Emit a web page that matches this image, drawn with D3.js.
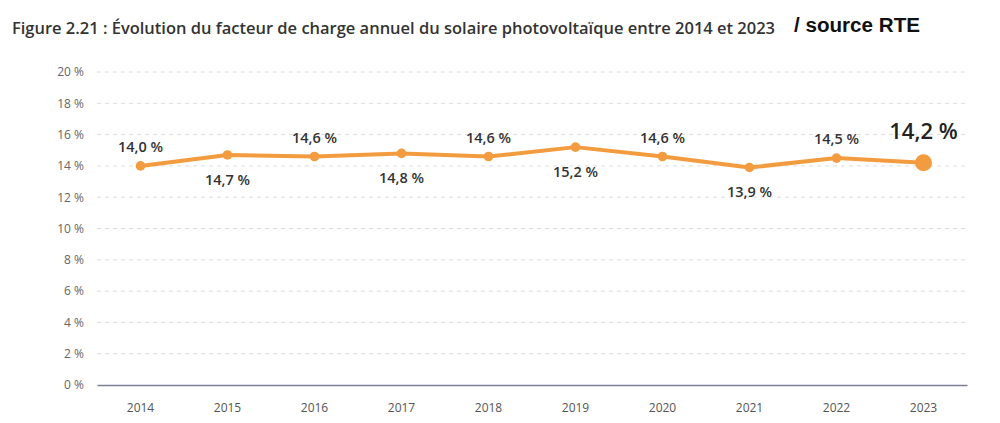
<!DOCTYPE html>
<html><head><meta charset="utf-8">
<script src="https://cdn.jsdelivr.net/npm/d3@7"></script>
<style>body{margin:0;background:#fff;}svg{display:block;}</style>
</head><body>
<svg id="c" width="1000" height="423"></svg>
<script>
const years = ["2014","2015","2016","2017","2018","2019","2020","2021","2022","2023"];
const values = [14.0, 14.7, 14.6, 14.8, 14.6, 15.2, 14.6, 13.9, 14.5, 14.2];
const labels = ["14,0 %","14,7 %","14,6 %","14,8 %","14,6 %","15,2 %","14,6 %","13,9 %","14,5 %","14,2 %"];
const labelPos = ["above","below","above","below","above","below","above","below","above","above"];
const yTicks = [0,2,4,6,8,10,12,14,16,18,20];
const titleText = "Figure 2.21 : Évolution du facteur de charge annuel du solaire photovoltaïque entre 2014 et 2023";
const sourceText = "/ source RTE";

const svg = d3.select("#c");
const m = {left:97, right:967, top:72, bottom:385};
const x = d3.scaleBand().domain(years).range([m.left, m.right]);
const y = d3.scaleLinear().domain([0,20]).range([m.bottom, m.top]);
const orange = "#f29b3f";

svg.append("text").attr("x",12).attr("y",34)
  .attr("font-family","'Open Sans', sans-serif").attr("font-weight",600).attr("font-size",15.5)
  .attr("textLength",763).attr("lengthAdjust","spacingAndGlyphs")
  .attr("fill","#333").text(titleText);
svg.append("text").attr("x",794).attr("y",32)
  .attr("font-family","'Liberation Sans', Arial, sans-serif").attr("font-weight",700).attr("font-size",20)
  .attr("textLength",126).attr("lengthAdjust","spacingAndGlyphs")
  .attr("fill","#111").text(sourceText);

// grid
const yAxis = d3.axisLeft(y).tickValues(yTicks).tickSize(0).tickPadding(13).tickFormat(d => d + " %");
const gy = svg.append("g").attr("transform",`translate(${m.left},0)`).call(yAxis);
gy.select(".domain").remove();
gy.selectAll("text").attr("font-family","'Open Sans', sans-serif").attr("font-size",12).attr("fill","#666");
svg.append("g").selectAll("line").data(yTicks.filter(d=>d>0)).join("line")
  .attr("x1",m.left).attr("x2",m.right).attr("y1",d=>y(d)).attr("y2",d=>y(d))
  .attr("stroke","#dcdcdc").attr("stroke-dasharray","4,4").attr("stroke-width",1);

const xAxis = d3.axisBottom(x).tickSize(0).tickPadding(18);
const gx = svg.append("g").attr("transform",`translate(0,${m.bottom})`).call(xAxis);
gx.select(".domain").attr("stroke","#7d7f99").attr("stroke-width",1.3);
gx.selectAll("text").attr("font-family","'Open Sans', sans-serif").attr("font-size",12).attr("fill","#555");

const cx = d => x(d) + x.bandwidth()/2;
const line = d3.line().x((d,i)=>cx(years[i])).y(d=>y(d));
svg.append("path").datum(values).attr("d",line).attr("fill","none")
  .attr("stroke",orange).attr("stroke-width",4).attr("stroke-linejoin","round");

const last = years.length-1;
svg.append("g").selectAll("circle").data(values).join("circle")
  .attr("cx",(d,i)=>cx(years[i])).attr("cy",d=>y(d))
  .attr("r",(d,i)=> i===last ? 8.5 : 4.8).attr("fill",orange);

svg.append("g").selectAll("text").data(values).join("text")
  .attr("x",(d,i)=>cx(years[i]))
  .attr("y",(d,i)=> i===last ? y(d)-24 : (labelPos[i]==="above" ? y(d)-14 : y(d)+30))
  .attr("text-anchor","middle")
  .attr("font-family","'Open Sans', sans-serif")
  .attr("font-weight",600)
  .attr("font-size",(d,i)=> i===last ? 22 : 14.5)
  .attr("fill",(d,i)=> i===last ? "#222" : "#333")
  .text((d,i)=>labels[i]);
</script>
</body></html>
